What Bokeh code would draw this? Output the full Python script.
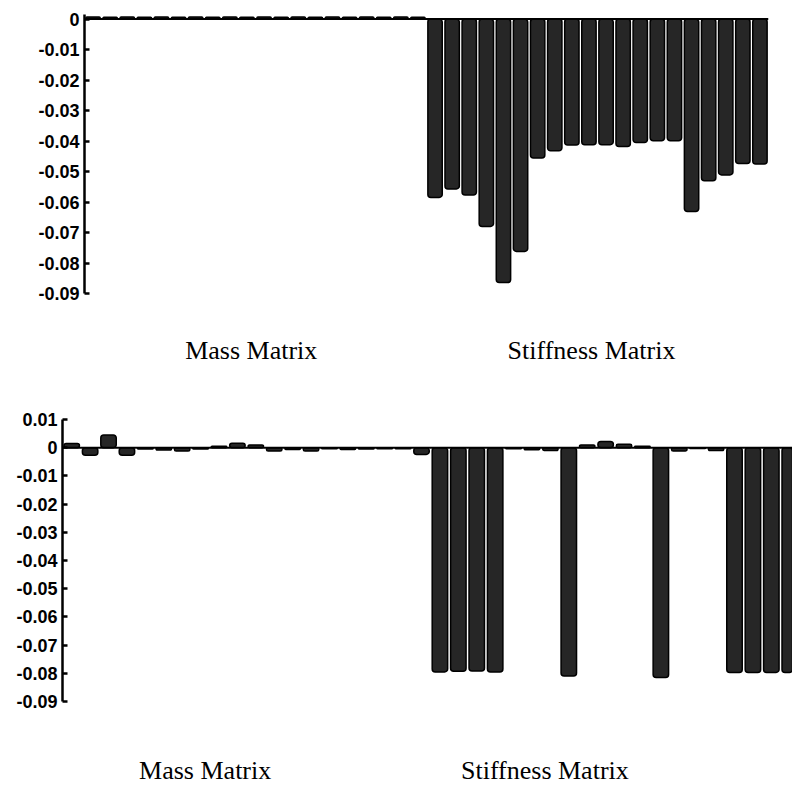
from bokeh.plotting import figure
from bokeh.models import FixedTicker, CustomJSTickFormatter, Span, Range1d
from bokeh.embed import file_html
from bokeh.resources import INLINE

# ---- data ----
group_labels = ["Mass Matrix", "Stiffness Matrix"]
y_ticks_top = [0, -0.01, -0.02, -0.03, -0.04, -0.05, -0.06, -0.07, -0.08, -0.09]
y_ticks_bottom = [0.01, 0, -0.01, -0.02, -0.03, -0.04, -0.05, -0.06, -0.07, -0.08, -0.09]

top_mass = [0.0007, 0.0006, 0.0007, 0.0006, 0.0007, 0.0006, 0.0007, 0.0006, 0.0007, 0.0006,
            0.0007, 0.0006, 0.0007, 0.0006, 0.0007, 0.0006, 0.0007, 0.0006, 0.0007, 0.0006]
top_stiff = [-0.0585, -0.0557, -0.0577, -0.0680, -0.0864, -0.0762, -0.0456, -0.0432, -0.0413, -0.0412,
             -0.0412, -0.0418, -0.0405, -0.0399, -0.0399, -0.0631, -0.0530, -0.0511, -0.0474, -0.0475]

bot_mass = [0.0015, -0.0027, 0.0045, -0.0027, -0.0005, -0.0008, -0.0012, -0.0005, 0.0005, 0.0016,
            0.001, -0.0012, -0.0006, -0.0012, -0.0004, -0.0006, -0.0005, -0.0004, -0.0004, -0.0024]
bot_stiff = [-0.0795, -0.0793, -0.0792, -0.0795, -0.0004, -0.0007, -0.001, -0.081, 0.001, 0.0022,
             0.0012, 0.0005, -0.0815, -0.0012, -0.0003, -0.001, -0.0797, -0.0797, -0.0797, -0.0797]

BAR_FILL = "#262626"
TICK_FONT = "Liberation Sans"
LABEL_FONT = "Liberation Serif"


def make_panel(values, y_ticks, y_start, y_end, x_end, width, height,
               left, right, top, bottom, label_pos, label_standoff):
    p = figure(width=width, height=height, output_backend="svg", toolbar_location=None,
               x_range=Range1d(-0.5, x_end), y_range=Range1d(y_start, y_end),
               min_border_left=left, min_border_right=right,
               min_border_top=top, min_border_bottom=bottom)
    xs = list(range(len(values)))
    p.vbar(x=xs, top=values, bottom=0, width=0.84, fill_color=BAR_FILL,
           line_color="black", line_width=1.5, border_radius=3)
    p.add_layout(Span(location=0, dimension="width", line_color="black", line_width=2))
    p.xgrid.visible = False
    p.ygrid.visible = False
    p.outline_line_color = None
    p.background_fill_color = "white"
    p.border_fill_color = "white"

    ya = p.yaxis[0]
    ya.ticker = FixedTicker(ticks=y_ticks)
    ya.formatter = CustomJSTickFormatter(code="return Math.abs(tick) < 1e-9 ? '0' : tick.toFixed(2);")
    ya.axis_label = None
    ya.axis_line_width = 2.5
    ya.axis_line_color = "black"
    ya.major_tick_in = 5
    ya.major_tick_out = 0
    ya.major_tick_line_width = 2.5
    ya.minor_tick_line_color = None
    ya.major_label_standoff = 5
    ya.major_label_text_font = TICK_FONT
    ya.major_label_text_font_style = "bold"
    ya.major_label_text_font_size = "18px"
    ya.major_label_text_color = "black"

    xa = p.xaxis[0]
    xa.ticker = FixedTicker(ticks=label_pos)
    xa.major_label_overrides = {label_pos[i]: group_labels[i] for i in range(2)}
    xa.axis_label = None
    xa.axis_line_color = None
    xa.major_tick_line_color = None
    xa.minor_tick_line_color = None
    xa.major_label_standoff = label_standoff
    xa.major_label_text_font = LABEL_FONT
    xa.major_label_text_font_size = "26px"
    xa.major_label_text_color = "black"
    return p


p_top = make_panel(top_mass + top_stiff, y_ticks_top, -0.09, 0.0015, 39.5, 792, 380,
                   84, 24, 14, 87, [9.25, 29.15], 36)
p_bot = make_panel(bot_mass + bot_stiff, y_ticks_bottom, -0.09, 0.01, 39.15, 792, 407,
                   62, 0, 39, 75, [7.25, 25.7], 48)

open("out.html", "w").write(file_html([p_top, p_bot], INLINE))
